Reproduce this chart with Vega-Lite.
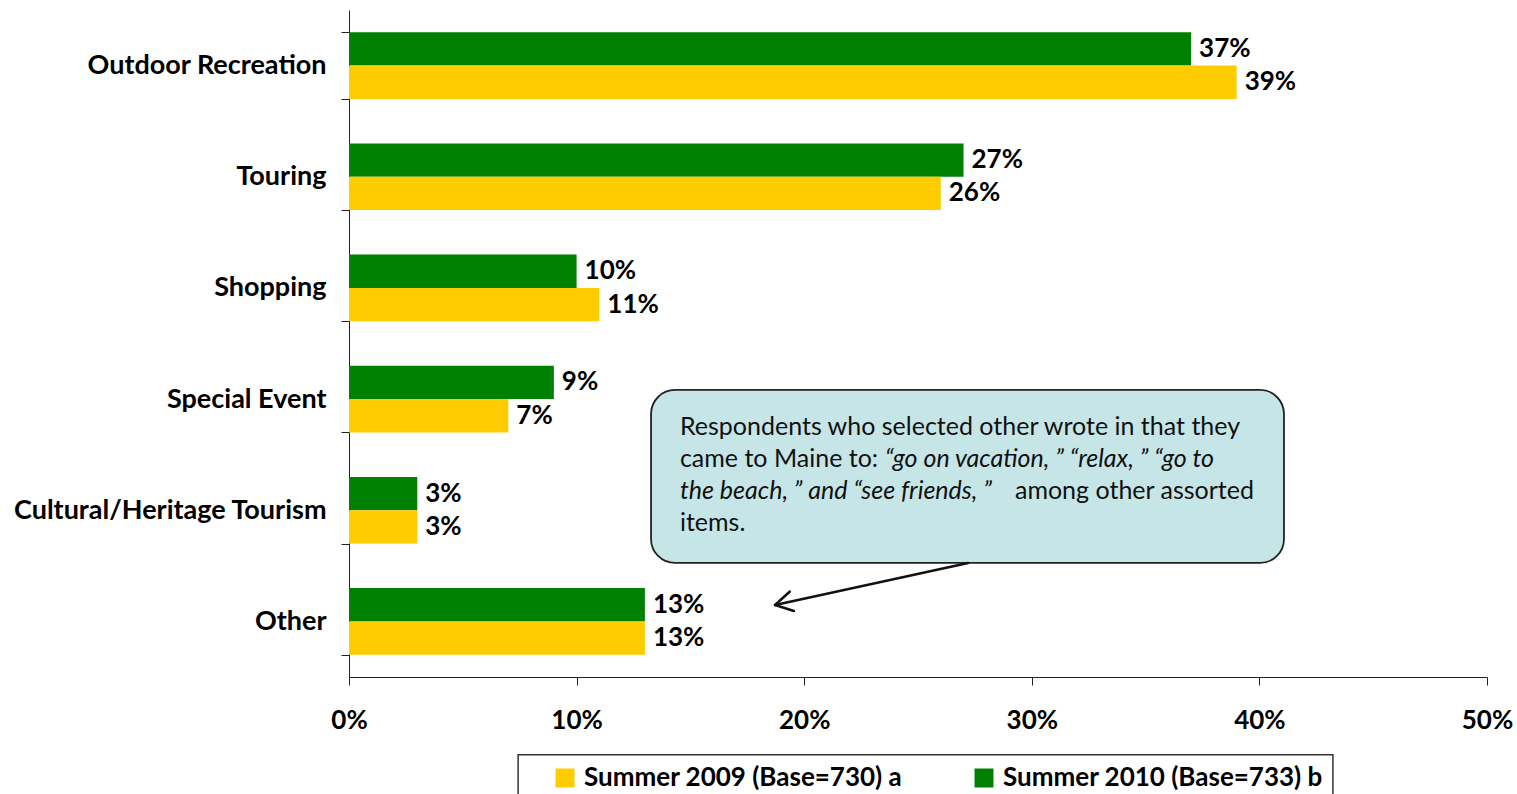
{
  "$schema": "https://vega.github.io/schema/vega-lite/v6.json",
  "width": 1138,
  "height": 667,
  "autosize": {"type": "none"},
  "padding": {"left": 349, "top": 10, "right": 30, "bottom": 117},
  "background": "white",
  "config": {"view": {"stroke": null}, "font": "Lato"},
  "layer": [
    {
      "data": {"values": [
        {"cat": "Outdoor Recreation", "series": "Summer 2010 (Base=733) b", "value": 0.37},
        {"cat": "Outdoor Recreation", "series": "Summer 2009 (Base=730) a", "value": 0.39},
        {"cat": "Touring", "series": "Summer 2010 (Base=733) b", "value": 0.27},
        {"cat": "Touring", "series": "Summer 2009 (Base=730) a", "value": 0.26},
        {"cat": "Shopping", "series": "Summer 2010 (Base=733) b", "value": 0.10},
        {"cat": "Shopping", "series": "Summer 2009 (Base=730) a", "value": 0.11},
        {"cat": "Special Event", "series": "Summer 2010 (Base=733) b", "value": 0.09},
        {"cat": "Special Event", "series": "Summer 2009 (Base=730) a", "value": 0.07},
        {"cat": "Cultural/Heritage Tourism", "series": "Summer 2010 (Base=733) b", "value": 0.03},
        {"cat": "Cultural/Heritage Tourism", "series": "Summer 2009 (Base=730) a", "value": 0.03},
        {"cat": "Other", "series": "Summer 2010 (Base=733) b", "value": 0.13},
        {"cat": "Other", "series": "Summer 2009 (Base=730) a", "value": 0.13}
      ]},
      "encoding": {
        "y": {
          "field": "cat", "type": "nominal",
          "sort": ["Outdoor Recreation", "Touring", "Shopping", "Special Event", "Cultural/Heritage Tourism", "Other"],
          "scale": {"paddingInner": 0.4, "paddingOuter": 0.2},
          "axis": {
            "title": null, "labelFont": "Lato", "labelFontWeight": "bold", "labelFontSize": 27,
            "labelColor": "black", "labelPadding": 15, "tickSize": 8, "tickBand": "extent",
            "tickColor": "#222", "domainColor": "#222", "labelLimit": 400
          }
        },
        "yOffset": {"field": "series", "type": "nominal", "sort": ["Summer 2010 (Base=733) b", "Summer 2009 (Base=730) a"]},
        "x": {
          "field": "value", "type": "quantitative",
          "scale": {"domain": [0, 0.5], "nice": false},
          "axis": {
            "title": null, "values": [0, 0.1, 0.2, 0.3, 0.4, 0.5], "format": ".0%",
            "grid": false, "tickSize": 8, "tickColor": "#222", "domainColor": "#222",
            "labelFont": "Lato", "labelFontWeight": "bold", "labelFontSize": 26, "labelColor": "black",
            "labelPadding": 22, "labelFlush": false
          }
        }
      },
      "layer": [
        {
          "mark": {"type": "bar"},
          "encoding": {
            "color": {
              "field": "series", "type": "nominal",
              "scale": {"domain": ["Summer 2009 (Base=730) a", "Summer 2010 (Base=733) b"], "range": ["#ffcc00", "#008000"]},
              "legend": {
                "title": null, "orient": "none", "direction": "horizontal", "legendX": 203, "legendY": 755,
                "symbolType": "square", "symbolSize": 361, "symbolStrokeWidth": 0, "symbolOpacity": 1,
                "labelFont": "Lato", "labelFontWeight": "bold", "labelFontSize": 26, "labelColor": "black",
                "labelLimit": 500, "columnPadding": 68, "padding": 0, "labelOffset": 6
              }
            }
          }
        },
        {
          "mark": {"type": "text", "align": "left", "baseline": "middle", "dx": 8, "font": "Lato", "fontWeight": "bold", "fontSize": 26, "color": "black"},
          "encoding": {"text": {"field": "value", "type": "quantitative", "format": ".0%"}}
        }
      ]
    },
    {
      "encoding": {
        "y": {"type": "quantitative", "scale": {"domain": [0, 6], "reverse": true, "nice": false, "zero": false}, "axis": null}
      },
      "layer": [
        {
          "data": {"values": [{"x1": 0.1327, "x2": 0.4108, "y1": 3.418, "y2": 4.974}]},
          "mark": {"type": "rect", "cornerRadius": 24, "fill": "#c5e5e7", "stroke": "#222", "strokeWidth": 1.8},
          "encoding": {
            "x": {"field": "x1", "type": "quantitative"}, "x2": {"field": "x2"},
            "y": {"field": "y1", "type": "quantitative"}, "y2": {"field": "y2"}
          }
        },
        {
          "data": {"values": [{"x1": 0.0743, "x2": 0.4323, "y1": 6.70, "y2": 7.3}]},
          "mark": {"type": "rect", "fill": null, "stroke": "#333", "strokeWidth": 1.5},
          "encoding": {
            "x": {"field": "x1", "type": "quantitative"}, "x2": {"field": "x2"},
            "y": {"field": "y1", "type": "quantitative"}, "y2": {"field": "y2"}
          }
        },
        {
          "data": {"values": [
            {"x": 0.1454, "y": 3.751, "t": "Respondents who selected other wrote in that they"},
            {"x": 0.1454, "y": 4.039, "t": "came to Maine to:"},
            {"x": 0.2926, "y": 4.327, "t": "among other assorted"},
            {"x": 0.1454, "y": 4.615, "t": "items."}
          ]},
          "mark": {"type": "text", "align": "left", "baseline": "middle", "font": "Lato", "fontSize": 25, "color": "#111"},
          "encoding": {
            "x": {"field": "x", "type": "quantitative"},
            "y": {"field": "y", "type": "quantitative"},
            "text": {"field": "t"}
          }
        },
        {
          "data": {"values": [
            {"x": 0.2355, "y": 4.039, "t": "“go on vacation,  ”  “relax,  ”  “go to"},
            {"x": 0.1454, "y": 4.327, "t": "the beach,  ” and  “see friends,  ”"}
          ]},
          "mark": {"type": "text", "align": "left", "baseline": "middle", "font": "Lato", "fontSize": 25, "fontStyle": "italic", "color": "#111"},
          "encoding": {
            "x": {"field": "x", "type": "quantitative"},
            "y": {"field": "y", "type": "quantitative"},
            "text": {"field": "t"}
          }
        },
        {
          "data": {"values": [
            {"x1": 0.272, "y1": 4.974, "x2": 0.1872, "y2": 5.352},
            {"x1": 0.1872, "y1": 5.352, "x2": 0.1937, "y2": 5.231},
            {"x1": 0.1872, "y1": 5.352, "x2": 0.1955, "y2": 5.406}
          ]},
          "mark": {"type": "rule", "color": "#111", "strokeWidth": 2.5, "strokeCap": "round"},
          "encoding": {
            "x": {"field": "x1", "type": "quantitative"}, "x2": {"field": "x2"},
            "y": {"field": "y1", "type": "quantitative"}, "y2": {"field": "y2"}
          }
        }
      ]
    }
  ],
  "resolve": {"scale": {"y": "independent"}, "axis": {"y": "independent"}}
}
